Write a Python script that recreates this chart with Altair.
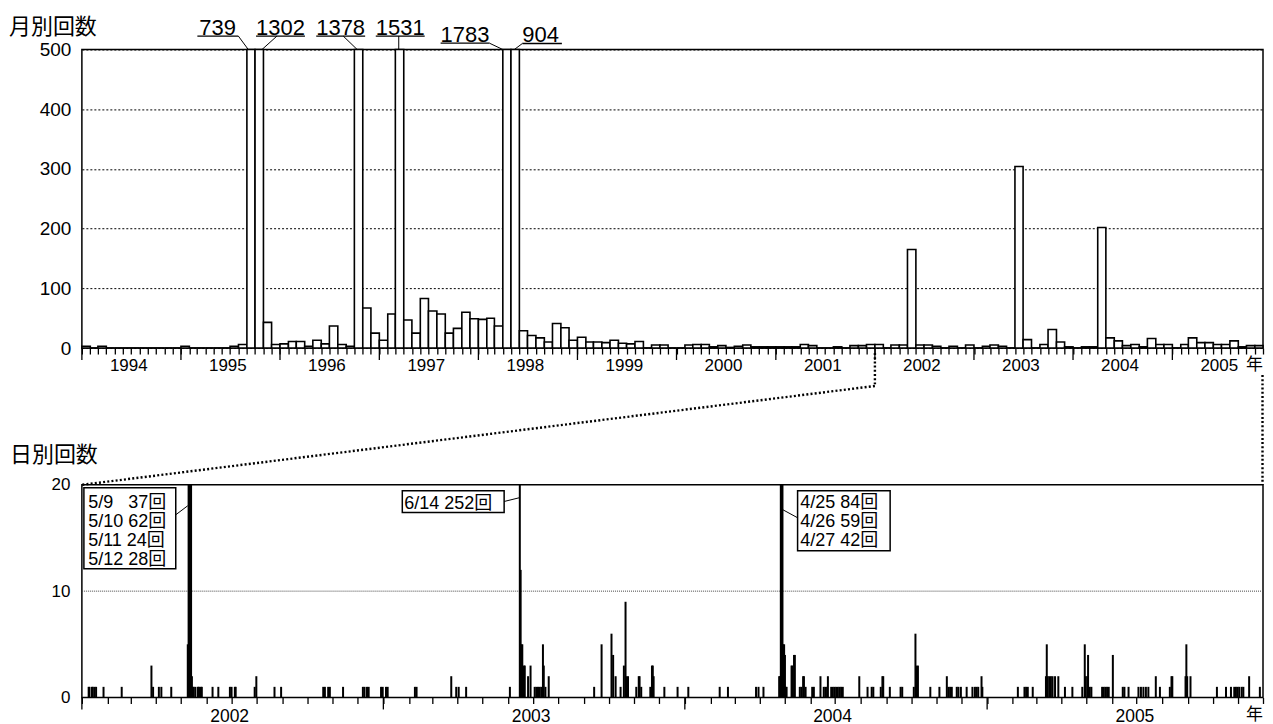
import altair as alt
import pandas as pd

NUM_FONT = "Liberation Sans, Arial, sans-serif"
JP_FONT = "Noto Sans CJK JP, sans-serif"
MIX_FONT = "Liberation Sans, Noto Sans CJK JP, sans-serif"

# ---------------- monthly counts (Jan 1994 - Nov 2005) ----------------
counts_1994 = [3, 0, 3, 0, 0, 0, 0, 0, 0, 0, 0, 0]
counts_1995 = [3, 0, 0, 0, 0, 0, 3, 6, 739, 1302, 43, 6]
counts_1996 = [7, 11, 11, 3, 13, 7, 37, 6, 3, 1378, 67, 25]
counts_1997 = [13, 57, 1531, 47, 25, 83, 62, 57, 25, 33, 60, 49]
counts_1998 = [48, 50, 37, 1783, 904, 29, 21, 17, 10, 41, 34, 13]
counts_1999 = [18, 10, 10, 9, 13, 8, 7, 11, 0, 5, 5, 0]
counts_2000 = [0, 5, 6, 6, 2, 4, 1, 3, 5, 2, 2, 2]
counts_2001 = [2, 2, 2, 6, 4, 0, 0, 2, 0, 4, 4, 6]
counts_2002 = [6, 0, 5, 5, 165, 5, 5, 3, 0, 3, 0, 5]
counts_2003 = [0, 3, 5, 3, 0, 304, 14, 0, 6, 31, 10, 2]
counts_2004 = [0, 2, 2, 202, 17, 12, 4, 6, 2, 16, 6, 6]
counts_2005 = [0, 6, 17, 9, 9, 6, 6, 12, 2, 4, 4]

monthly_counts = (counts_1994 + counts_1995 + counts_1996 + counts_1997 + counts_1998 +
                  counts_1999 + counts_2000 + counts_2001 + counts_2002 + counts_2003 +
                  counts_2004 + counts_2005)

top_years = list(range(1994, 2006))
bot_years = list(range(2002, 2006))

# ---------------- daily counts (2002 - Nov 2005) ----------------
day_dates = [
    "2002-01-08", "2002-01-09", "2002-01-12", "2002-01-13", "2002-01-15", "2002-01-17", "2002-01-26",
    "2002-02-17", "2002-03-25", "2002-03-27", "2002-04-03", "2002-04-06", "2002-04-18",
    "2002-05-08", "2002-05-09", "2002-05-10", "2002-05-11", "2002-05-12", "2002-05-13", "2002-05-14",
    "2002-05-15", "2002-05-17", "2002-05-20", "2002-05-21", "2002-05-22", "2002-05-24", "2002-05-25",
    "2002-06-07", "2002-06-14", "2002-06-28", "2002-06-30", "2002-07-04", "2002-07-05", "2002-07-28",
    "2002-07-30", "2002-08-21", "2002-08-29", "2002-10-19", "2002-10-21", "2002-10-25", "2002-10-27",
    "2002-11-12", "2002-12-06", "2002-12-08", "2002-12-11", "2002-12-13", "2002-12-28", "2002-12-30",
    "2003-01-03", "2003-01-05", "2003-02-07", "2003-02-09", "2003-03-23", "2003-03-29", "2003-04-01",
    "2003-04-10", "2003-06-02", "2003-06-14", "2003-06-15", "2003-06-16", "2003-06-17", "2003-06-19",
    "2003-06-20", "2003-06-24", "2003-06-27", "2003-07-02", "2003-07-04", "2003-07-06", "2003-07-08",
    "2003-07-10", "2003-07-12", "2003-07-13", "2003-07-15", "2003-07-19", "2003-09-12", "2003-09-21",
    "2003-10-03", "2003-10-05", "2003-10-08", "2003-10-14", "2003-10-18", "2003-10-20", "2003-10-21",
    "2003-10-23", "2003-11-02", "2003-11-05", "2003-11-06", "2003-11-08", "2003-11-19", "2003-11-21",
    "2003-11-22", "2003-11-23", "2003-12-06", "2003-12-22",
    "2004-01-04", "2004-02-11", "2004-02-21", "2004-03-26", "2004-03-29", "2004-04-04", "2004-04-23",
    "2004-04-24", "2004-04-25", "2004-04-26", "2004-04-27", "2004-04-28", "2004-04-29", "2004-04-30",
    "2004-05-01", "2004-05-02", "2004-05-08", "2004-05-09", "2004-05-11", "2004-05-12", "2004-05-18",
    "2004-05-20", "2004-05-22", "2004-05-23", "2004-05-25", "2004-06-02", "2004-06-04", "2004-06-12",
    "2004-06-16", "2004-06-18", "2004-06-20", "2004-06-21", "2004-06-25", "2004-06-27", "2004-06-29",
    "2004-07-01", "2004-07-03", "2004-07-05", "2004-07-07", "2004-07-09", "2004-07-29", "2004-08-08",
    "2004-08-13", "2004-08-15", "2004-08-24", "2004-08-26", "2004-08-27", "2004-09-04", "2004-09-17",
    "2004-09-19", "2004-10-03", "2004-10-05", "2004-10-06", "2004-10-07", "2004-10-08", "2004-10-23",
    "2004-11-03", "2004-11-12", "2004-11-14", "2004-11-16", "2004-11-18", "2004-11-24", "2004-11-26",
    "2004-11-29", "2004-12-06", "2004-12-13", "2004-12-16", "2004-12-18", "2004-12-20", "2004-12-24",
    "2004-12-25",
    "2005-02-06", "2005-02-14", "2005-02-16", "2005-02-18", "2005-02-24", "2005-03-12", "2005-03-13",
    "2005-03-14", "2005-03-16", "2005-03-18", "2005-03-20", "2005-03-23", "2005-03-27", "2005-04-04",
    "2005-04-13", "2005-04-25", "2005-04-28", "2005-04-29", "2005-05-01", "2005-05-02", "2005-05-04",
    "2005-05-06", "2005-05-19", "2005-05-21", "2005-05-23", "2005-05-25", "2005-05-27", "2005-06-01",
    "2005-06-13", "2005-06-15", "2005-06-20", "2005-07-02", "2005-07-05", "2005-07-08", "2005-07-11",
    "2005-07-14", "2005-07-23", "2005-07-28", "2005-08-09", "2005-08-11", "2005-08-12", "2005-08-28",
    "2005-08-29", "2005-08-30", "2005-09-03", "2005-10-05", "2005-10-16", "2005-10-22", "2005-10-26",
    "2005-10-28", "2005-10-30", "2005-11-01", "2005-11-04", "2005-11-06", "2005-11-13", "2005-11-26",
]
day_counts = [
    1, 1, 1, 1, 1, 1, 1,
    1, 3, 1, 1, 1, 1,
    5, 37, 62, 24, 28, 2, 1,
    1, 1, 1, 1, 1, 1, 1,
    1, 1, 1, 1, 1, 1, 1,
    2, 1, 1, 1, 1, 1, 1,
    1, 1, 1, 1, 1, 1, 1,
    1, 1, 1, 1, 2, 1, 1,
    1, 1, 252, 12, 5, 5, 3,
    3, 2, 3, 1, 1, 1, 1,
    1, 5, 3, 1, 2, 1, 5,
    6, 4, 2, 1, 3, 9, 2,
    2, 1, 2, 2, 1, 1, 3,
    3, 2, 1, 1,
    1, 1, 1, 1, 1, 1, 2,
    2, 84, 59, 42, 5, 5, 4,
    1, 1, 3, 3, 4, 4, 1,
    1, 2, 2, 1, 1, 1, 2,
    1, 1, 1, 2, 1, 1, 1,
    1, 1, 1, 1, 1, 2, 1,
    1, 1, 1, 2, 2, 1, 1,
    1, 1, 6, 3, 2, 3, 1,
    1, 2, 1, 1, 1, 1, 1,
    1, 1, 1, 1, 1, 1, 2,
    1,
    1, 1, 1, 1, 1, 2, 5,
    2, 2, 2, 2, 2, 2, 1,
    1, 1, 5, 2, 2, 4, 1,
    1, 1, 1, 1, 1, 1, 4,
    1, 1, 1, 1, 1, 1, 1,
    1, 2, 1, 1, 2, 2, 2,
    5, 2, 2, 1, 1, 1, 1,
    1, 1, 1, 1, 1, 2, 1,
]

# ---------------- geometry / style ----------------
W = 1183
H_TOP = 299
H_BOT = 213
GAP = 137

months = pd.date_range("1994-01-01", periods=len(monthly_counts), freq="MS")
months_end = pd.date_range("1994-02-01", periods=len(monthly_counts), freq="MS")
top_df = pd.DataFrame({"month": months, "month_end": months_end, "count": monthly_counts})

daily_df = pd.DataFrame({"date": pd.to_datetime(day_dates), "count": day_counts})


def dt(ts):
    return alt.DateTime(year=int(ts.year), month=int(ts.month), date=int(ts.day))


top_start, top_end = pd.Timestamp("1994-01-01"), pd.Timestamp("2005-12-01")
bot_start, bot_end = pd.Timestamp("2002-01-01"), pd.Timestamp("2005-12-01")
xs_top = alt.Scale(domain=[dt(top_start), dt(top_end)])
xs_bot = alt.Scale(domain=[dt(bot_start), dt(bot_end)])
ys_top = alt.Scale(domain=[0, 500], clamp=True, nice=False)
ys_bot = alt.Scale(domain=[0, 20], clamp=True, nice=False)


def month_axis(start, end):
    vals = [dt(d) for d in pd.date_range(start, end, freq="MS")]
    return alt.Axis(values=vals, tickSize=6, tickWidth=1.3, tickColor="black",
                    domain=False, grid=False, labels=False, title=None)


AX_TOP = month_axis(top_start, top_end)
AX_BOT = month_axis(bot_start, bot_end)
AY_BOT = alt.Axis(values=[0, 10, 20], grid=False, ticks=False, tickSize=0, domain=False,
                  labelPadding=12, labelFont=NUM_FONT, labelFontSize=17,
                  labelColor="black", title=None)


def XT(field):
    return alt.X(field, scale=xs_top, axis=AX_TOP)


def XB(field):
    return alt.X(field, scale=xs_bot, axis=AX_BOT)


def year_layers(years, xenc, height, label_dx, label_dy, size):
    ydf = pd.DataFrame({"d": [pd.Timestamp(year=y, month=1, day=1) for y in years],
                        "label": [str(y) for y in years]})
    ticks = alt.Chart(ydf).mark_rule(color="black", strokeWidth=1.3).encode(
        x=xenc("d:T"), y=alt.value(height), y2=alt.value(height + 12))
    labels = alt.Chart(ydf).mark_text(align="center", baseline="top", dx=label_dx,
                                      font=NUM_FONT, fontSize=size, color="black").encode(
        x=xenc("d:T"), y=alt.value(height + label_dy), text="label:N")
    return [ticks, labels]


# ================= top chart =================
bars = alt.Chart(top_df).mark_bar(fill="white", stroke="black", strokeWidth=1.6).encode(
    x=XT("month:T"),
    x2="month_end:T",
    y=alt.Y("count:Q", scale=ys_top,
            axis=alt.Axis(values=[0, 100, 200, 300, 400, 500], grid=True, gridDash=[2, 2],
                          gridColor="black", gridWidth=1, ticks=False, tickSize=0,
                          domain=False, labelPadding=11, labelFont=NUM_FONT,
                          labelFontSize=19, labelColor="black", title=None)),
    y2=alt.datum(0),
)

# big-month annotations: (year, month, text dx, baseline, underline x1, x2, y, leader x at bar, leader x at label)
top_notes = [
    (1995, 9, -47.6, -15, -49.6, -8.6, -13.5, 1.4, -8.6),
    (1995, 10, 1.0, -15, 1.0, 50.0, -13.5, 7.0, 22.0),
    (1996, 10, -38.2, -15, -38.2, 10.8, -13.5, 2.8, -11.2),
    (1997, 3, -19.6, -15, -19.6, 29.4, -13.5, 3.4, 3.4),
    (1998, 4, -62.3, -8, -62.3, -13.3, -6.3, 0.0, -13.3),
    (1998, 5, 11.4, -7.5, 11.4, 51.0, -6.0, 3.4, 11.4),
]
note_layers = []
for (yy, mm, tdx, base, u1, u2, uy, l1, l2) in top_notes:
    ts = pd.Timestamp(year=yy, month=mm, day=1)
    val = top_df.loc[top_df["month"] == ts, "count"].iloc[0]
    ndf = pd.DataFrame({"d": [ts], "label": [str(val)]})
    base_c = alt.Chart(ndf)
    note_layers.append(base_c.mark_text(align="left", baseline="alphabetic", dx=tdx, font=NUM_FONT,
                                        fontSize=22, color="black").encode(
        x=XT("d:T"), y=alt.value(base), text="label:N"))
    note_layers.append(base_c.mark_rule(color="black", strokeWidth=1.3, xOffset=u1, x2Offset=u2).encode(
        x=XT("d:T"), x2="d:T", y=alt.value(uy)))
    note_layers.append(base_c.mark_rule(color="black", strokeWidth=1, xOffset=l1, x2Offset=l2).encode(
        x=XT("d:T"), x2="d:T", y=alt.value(0), y2=alt.value(uy)))

top_title = alt.Chart(pd.DataFrame({"t": ["月別回数"]})).mark_text(
    align="left", baseline="alphabetic", font=JP_FONT, fontSize=22, color="black").encode(
    x=alt.value(-73), y=alt.value(-16), text="t:N")

top_nen = alt.Chart(pd.DataFrame({"d": [top_end], "t": ["年"]})).mark_text(
    align="left", baseline="top", dx=-17, font=JP_FONT, fontSize=17, color="black").encode(
    x=XT("d:T"), y=alt.value(H_TOP + 9), text="t:N")

conn_df = pd.DataFrame({"d": [bot_start], "d0": [top_start], "e": [top_end]})
DOT = dict(color="black", strokeWidth=2.4, strokeDash=[2, 2.2])
conn_v = alt.Chart(conn_df).mark_rule(**DOT).encode(
    x=XT("d:T"), y=alt.value(H_TOP + 5), y2=alt.value(H_TOP + 38))
conn_diag = alt.Chart(conn_df).mark_rule(**DOT).encode(
    x=XT("d:T"), x2="d0:T",
    y=alt.value(H_TOP + 38), y2=alt.value(H_TOP + GAP))
conn_r = alt.Chart(conn_df).mark_rule(**DOT, xOffset=-0.5).encode(
    x=XT("e:T"), y=alt.value(H_TOP + 27), y2=alt.value(H_TOP + GAP))

top_chart = alt.layer(bars, *year_layers(top_years, XT, H_TOP, 47, 10, 17),
                      *note_layers, top_title, top_nen,
                      conn_v, conn_diag, conn_r).properties(width=W, height=H_TOP)

# ================= bottom chart =================
grid_bot = alt.Chart(pd.DataFrame({"v": [10]})).mark_rule(
    color="#444", strokeWidth=1, strokeDash=[1, 1]).encode(
    y=alt.Y("v:Q", scale=ys_bot, axis=AY_BOT))

day_bars = alt.Chart(daily_df).mark_rule(color="black", strokeWidth=2, xOffset=1).encode(
    x=XB("date:T"),
    y=alt.Y("count:Q", scale=ys_bot, axis=AY_BOT),
    y2=alt.datum(0),
)


def day_label(dates):
    out = []
    for d in dates:
        ts = pd.Timestamp(d)
        c = daily_df.loc[daily_df["date"] == ts, "count"].iloc[0]
        md = f"{ts.month}/{ts.day}"
        sep = "\u00a0\u00a0\u00a0" if len(md) == 3 else " "
        out.append(f"{md}{sep}{c}回")
    return out


# boxes: (anchor date, dates listed, box x1, x2, y1, y2, text dx, text baseline, leader x1, x2, y1, y2)
bot_notes = [
    ("2002-05-10", ["2002-05-09", "2002-05-10", "2002-05-11", "2002-05-12"],
     -104.7, -12.7, 3, 84, -100.4, 23.3, -12.7, -0.7, 30, 21),
    ("2003-06-14", ["2003-06-14"],
     -116.7, -14.7, 6, 27.7, -114.7, 24.3, -14.7, 0.3, 16.7, 13),
    ("2004-04-25", ["2004-04-25", "2004-04-26", "2004-04-27"],
     17.8, 110.5, 6, 66, 20.5, 23.3, 3.1, 17.8, 25, 33),
]
box_layers = []
for (anchor, dl, bx1, bx2, by1, by2, tdx, tb, lx1, lx2, ly1, ly2) in bot_notes:
    adf = pd.DataFrame({"d": [pd.Timestamp(anchor)]})
    c = alt.Chart(adf)
    lines = day_label(dl)
    box_layers.append(c.mark_rule(color="black", strokeWidth=1, xOffset=lx1, x2Offset=lx2).encode(
        x=XB("d:T"), x2="d:T", y=alt.value(ly1), y2=alt.value(ly2)))
    box_layers.append(c.mark_rect(fill="white", stroke="black", strokeWidth=1.5,
                                  xOffset=bx1, x2Offset=bx2).encode(
        x=XB("d:T"), x2="d:T", y=alt.value(by1), y2=alt.value(by2)))
    box_layers.append(c.mark_text(align="left", baseline="alphabetic", dx=tdx, font=MIX_FONT,
                                  fontSize=18, lineHeight=18.9, color="black", text=lines).encode(
        x=XB("d:T"), y=alt.value(tb)))

bot_title = alt.Chart(pd.DataFrame({"t": ["日別回数"]})).mark_text(
    align="left", baseline="alphabetic", font=JP_FONT, fontSize=22, color="black").encode(
    x=alt.value(-72), y=alt.value(-23), text="t:N")

bot_nen = alt.Chart(pd.DataFrame({"d": [bot_end], "t": ["年"]})).mark_text(
    align="left", baseline="top", dx=-17, font=JP_FONT, fontSize=17, color="black").encode(
    x=XB("d:T"), y=alt.value(H_BOT + 10), text="t:N")

bot_chart = alt.layer(grid_bot, day_bars, *year_layers(bot_years, XB, H_BOT, 148, 11, 17.5),
                      *box_layers, bot_title, bot_nen).properties(width=W, height=H_BOT)

chart = alt.vconcat(top_chart, bot_chart, spacing=GAP, bounds="flush").properties(
    padding={"left": 0, "top": 6, "right": 0, "bottom": 0}
).configure_view(stroke="black", strokeWidth=1.5).configure_axis(labelColor="black")

chart.save("out.html", embed_options={"renderer": "svg", "actions": False})
